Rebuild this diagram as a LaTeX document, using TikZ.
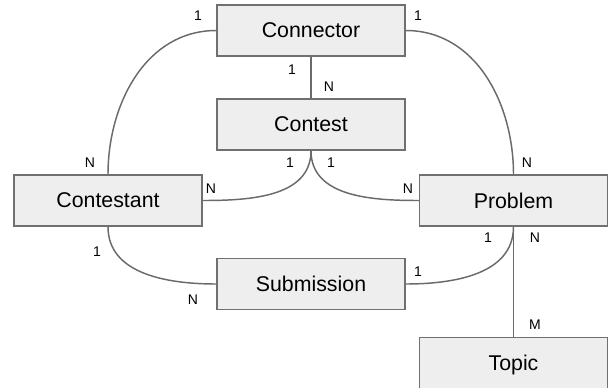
\documentclass[tikz,border=0pt]{standalone}
\usepackage{fontspec}
\setmainfont{Liberation Sans}
\usepackage{tikz}

\definecolor{boxfill}{HTML}{EEEEEE}
\definecolor{boxline}{HTML}{707070}
\definecolor{linkline}{HTML}{6A6A6A}

\begin{document}
\begin{tikzpicture}[x=0.75pt, y=-0.75pt,
	entity/.style={draw=boxline, fill=boxfill, line width=1.1pt, minimum width=141pt, minimum height=38.25pt, inner sep=0pt, font=\fontsize{16}{18}\selectfont},
	link/.style={draw=linkline, line width=1.1pt},
	card/.style={font=\fontsize{10.5}{12}\selectfont, inner sep=0pt}]
	\useasboundingbox (0,0) rectangle (608,387);
	\begin{scope}
	\clip (0,0) rectangle (608,387);
	\node[entity] (conn) at (311,30.5) {Connector};
	\node[entity] (contest) at (311,124.5) {Contest};
	\node[entity] (cst) at (108,200.5) {Contestant};
	\node[entity] (prob) at (513.5,200.5) {Problem};
	\node[entity] (sub) at (311,284) {Submission};
	% box runs off the bottom edge
	\node[entity, anchor=north, text height=24.75pt, text depth=16.5pt] (topic) at (513.5,337) {Topic};
	\end{scope}
	\draw[link] (conn.west) to[out=180, in=90] (cst.north);
	\draw[link] (conn.east) to[out=0, in=90] (prob.north);
	\draw[link] (conn.south) -- (contest.north);
	\draw[link] (contest.south) to[out=-90, in=0] (cst.east);
	\draw[link] (contest.south) to[out=-90, in=180] (prob.west);
	\draw[link] (cst.south) to[out=-90, in=180] (sub.west);
	\draw[link] (prob.south) to[out=-90, in=0] (sub.east);
	\draw[link] (prob.south) -- (topic.north);
	% cardinalities
	\node[card] (k1) at (198,16) {1};
	\node[card] (k2) at (418,16) {1};
	\node[card] (k3) at (292,70) {1};
	\node[card] (k4) at (329,87) {N};
	\node[card] (k5) at (90,163) {N};
	\node[card] (k6) at (290,163) {1};
	\node[card] (k7) at (331,163) {1};
	\node[card] (k8) at (527,163) {N};
	\node[card] (k9) at (211,189) {N};
	\node[card] (k10) at (408,189) {N};
	\node[card] (k11) at (488,238) {1};
	\node[card] (k12) at (535,238) {N};
	\node[card] (k13) at (97,252) {1};
	\node[card] (k14) at (418,272) {1};
	\node[card] (k15) at (193,300) {N};
	\node[card] (k16) at (535,325) {M};
\end{tikzpicture}
\end{document}
